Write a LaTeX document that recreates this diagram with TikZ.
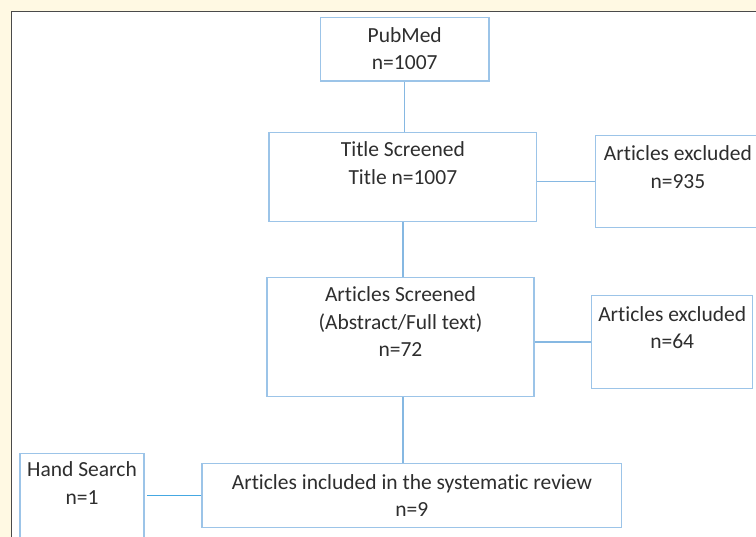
\documentclass[tikz,border=0pt]{standalone}
\usepackage{fontspec}
\setmainfont[Ligatures=NoCommon]{Carlito}
\definecolor{cream}{HTML}{FFF9E3}
\definecolor{framegray}{HTML}{4A4A4A}
\definecolor{boxblue}{HTML}{9CC4E8}
\definecolor{linkblue}{HTML}{86B8E2}
\definecolor{handblue}{HTML}{45A8E2}
\definecolor{textgray}{HTML}{2E2E2E}
\begin{document}
\begin{tikzpicture}[x=1pt,y=-1pt,
  box/.style={draw=boxblue, line width=1.3pt, rectangle, inner sep=0pt,
    align=center, anchor=north, text=textgray,
    font=\fontsize{21.5}{27.5}\selectfont},
  link/.style={draw=linkblue, line width=1.3pt}]
  % Page and frame
  \useasboundingbox (0,0) rectangle (756,537);
  \clip (0,0) rectangle (756,537);
  \fill[cream] (0,0) rectangle (756,537);
  \fill[white] (11.5,11.5) rectangle (770,550);
  \draw[framegray, line width=1.6pt] (11.5,550) -- (11.5,11.5) -- (770,11.5);
  % Boxes
  \node[box, minimum width=168.5pt, text height=52pt, text depth=11.3pt] (pub) at (404.75,17) {PubMed\\n=1007};
  \node[box, minimum width=267.7pt, text height=52pt, text depth=37.3pt] (title) at (402.85,131.7) {Title Screened\\Title n=1007};
  \node[box, minimum width=164.3pt, text height=52.5pt, text depth=39.2pt] (excA) at (677.85,135) {Articles excluded\\n=935};
  \node[box, minimum width=267pt, text height=79.5pt, text depth=39.8pt] (screen) at (400.5,276.7) {Articles Screened\\(Abstract/Full text)\\n=72};
  \node[box, minimum width=161pt, text height=53pt, text depth=40pt] (excB) at (672.2,295) {Articles excluded\\n=64};
  \node[box, minimum width=419.7pt, text height=53pt, text depth=10.7pt] (incl) at (411.85,463) {Articles included in the systematic review\\n=9};
  \node[box, minimum width=124pt, text height=51pt, text depth=40pt] (hand) at (82,452.7) {Hand Search\\n=1};
  % Connectors
  \draw[link] (pub.south) -- (pub.south |- title.north);
  \draw[link] (excA.west) -- (excA.west -| title.east);
  \draw[link] (title.south) -- (title.south |- screen.north);
  \draw[link] (excB.west) -- (excB.west -| screen.east);
  \draw[link] (title.south |- screen.south) -- (title.south |- incl.north);
  \draw[link, handblue, line width=1.8pt] (incl.west) -- ([xshift=2pt]incl.west -| hand.east);
\end{tikzpicture}
\end{document}
